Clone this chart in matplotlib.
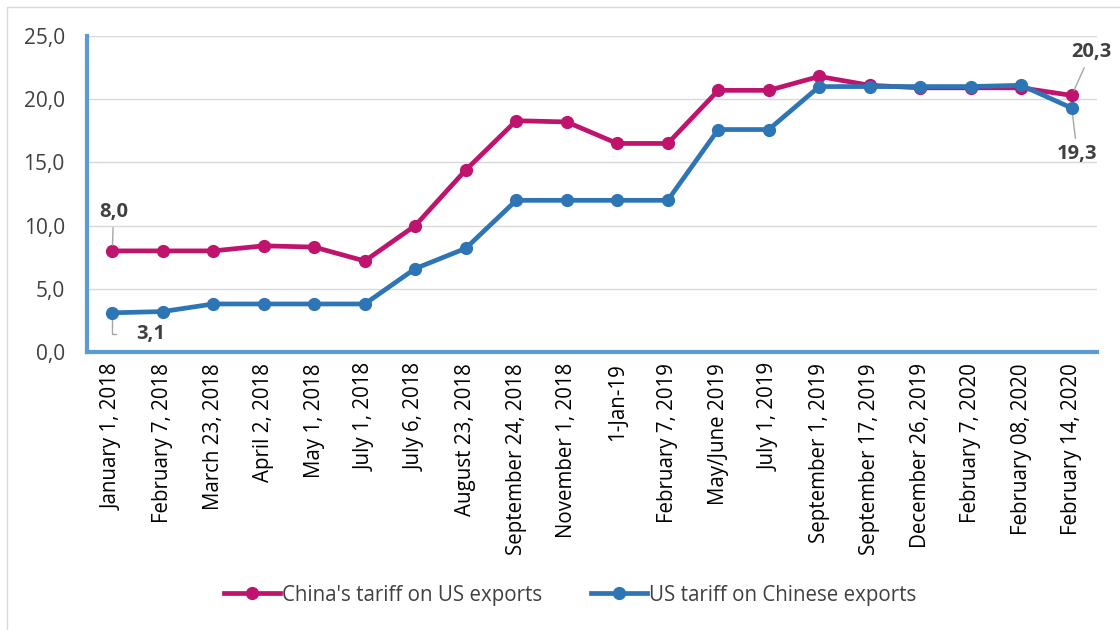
import matplotlib
matplotlib.use("Agg")
import matplotlib.pyplot as plt
from matplotlib.patches import Rectangle

# categories and series
dates = ["January 1, 2018", "February 7, 2018", "March 23, 2018", "April 2, 2018",
         "May 1, 2018", "July 1, 2018", "July 6, 2018", "August 23, 2018",
         "September 24, 2018", "November 1, 2018", "1-Jan-19", "February 7, 2019",
         "May/June 2019", "July 1, 2019", "September 1, 2019", "September 17, 2019",
         "December 26, 2019", "February 7, 2020", "February 08, 2020", "February 14, 2020"]
china_tariff = [8.0, 8.0, 8.0, 8.4, 8.3, 7.2, 10.0, 14.4, 18.3, 18.2, 16.5, 16.5,
                20.7, 20.7, 21.8, 21.1, 20.9, 20.9, 20.9, 20.3]
us_tariff = [3.1, 3.2, 3.8, 3.8, 3.8, 3.8, 6.6, 8.2, 12.0, 12.0, 12.0, 12.0,
             17.6, 17.6, 21.0, 21.0, 21.0, 21.0, 21.1, 19.3]
yticks = [0, 5, 10, 15, 20, 25]

PINK = "#C0136E"
BLUE = "#2E75B6"
AXBLUE = "#5B9BD5"
TXT = "#404040"

plt.rcParams['font.family'] = ['Open Sans', 'DejaVu Sans']

fig = plt.figure(figsize=(11.2, 6.3), dpi=100)
ax = fig.add_axes([87 / 1120, 1 - 352 / 630, 1010 / 1120, 316 / 630])

# outer chart frame
fig.patches.append(Rectangle((7 / 1120, -0.1), 1.2, 1 - 7 / 630 + 0.1, transform=fig.transFigure,
                             fill=False, edgecolor="#D9D9D9", linewidth=1))

x = list(range(len(dates)))
ax.plot(x, china_tariff, color=PINK, lw=3.4, marker="o", ms=8.5, label="China's tariff on US exports",
        solid_joinstyle="round", zorder=3)
ax.plot(x, us_tariff, color=BLUE, lw=3.4, marker="o", ms=8.5, label="US tariff on Chinese exports",
        solid_joinstyle="round", zorder=4)

ax.set_xlim(-0.5, len(dates) - 0.5)
ax.set_ylim(0, 25)
ax.set_yticks(yticks)
ax.set_yticklabels([f"{v:.1f}".replace(".", ",") for v in yticks], fontsize=15, color=TXT)
ax.set_xticks(x)
ax.set_xticklabels(dates, rotation=90, fontsize=14.8, color="#000000")
ax.tick_params(length=0, pad=8)
ax.tick_params(axis="y", pad=16)
ax.grid(axis="y", color="#D9D9D9", lw=1)
ax.set_axisbelow(True)
for s in ["top", "right"]:
    ax.spines[s].set_visible(False)
for s in ["left", "bottom"]:
    ax.spines[s].set_color(AXBLUE)
    ax.spines[s].set_linewidth(3)

# data labels with leader lines
lab = dict(fontsize=14.5, fontweight="bold", color=TXT, ha="center", va="center")
arrow = dict(arrowstyle="-", color="#A6A6A6", lw=1, shrinkA=2, shrinkB=4)
ax.annotate(f"{china_tariff[0]:.1f}".replace(".", ","), (0, china_tariff[0]), xytext=(1, 28),
            textcoords="offset points", arrowprops=arrow, **lab)
ax.annotate(f"{us_tariff[0]:.1f}".replace(".", ","), (0, us_tariff[0]), xytext=(28, -15),
            textcoords="offset points",
            arrowprops=dict(arrow, connectionstyle="angle,angleA=0,angleB=90,rad=0", shrinkA=13),
            **lab)
ax.annotate(f"{china_tariff[-1]:.1f}".replace(".", ","), (19, china_tariff[-1]), xytext=(14, 31),
            textcoords="offset points", arrowprops=arrow, **lab)
ax.annotate(f"{us_tariff[-1]:.1f}".replace(".", ","), (19, us_tariff[-1]), xytext=(4, -33),
            textcoords="offset points", arrowprops=arrow, **lab)

leg = fig.legend(loc="center", bbox_to_anchor=(0.509, 1 - 595 / 630), ncol=2, frameon=False,
                 prop=dict(size=14.8, weight="medium"), handlelength=2.7, columnspacing=2.4,
                 handletextpad=0.1)
for t in leg.get_texts():
    t.set_color(TXT)

fig.savefig("out.png", dpi=100)
